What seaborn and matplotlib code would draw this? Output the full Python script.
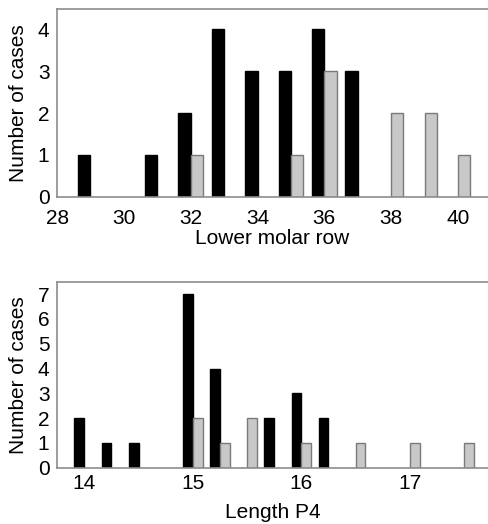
import pandas as pd
import matplotlib
matplotlib.use("Agg")
import matplotlib.pyplot as plt
import seaborn as sns

# Lower molar row counts (black = group A, grey = group B)
molar_a_x = [29, 31, 32, 33, 34, 35, 36, 37]
molar_a_n = [1, 1, 2, 4, 3, 3, 4, 3]
molar_b_x = [32, 35, 36, 38, 39, 40]
molar_b_n = [1, 1, 3, 2, 2, 1]

# Length P4 counts
p4_a_x = [14.0, 14.25, 14.5, 15.0, 15.25, 15.75, 16.0, 16.25]
p4_a_n = [2, 1, 1, 7, 4, 2, 3, 2]
p4_b_x = [15.0, 15.25, 15.5, 16.0, 16.5, 17.0, 17.5]
p4_b_n = [2, 1, 2, 1, 1, 1, 1]

sns.set_style("white")
plt.rcParams["font.family"] = ["Liberation Sans", "DejaVu Sans"]
plt.rcParams["font.size"] = 15
plt.rcParams["text.color"] = "black"
plt.rcParams["axes.labelcolor"] = "black"

BLACK = "#000000"
GREY = "#c8c8c8"
GREY_EDGE = "#7a7a7a"
SPINE = "#8c8c8c"


def make_df(ax_, an, bx, bn):
    return pd.DataFrame({
        "x": list(ax_) + list(bx),
        "n": list(an) + list(bn),
        "grp": ["a"] * len(ax_) + ["b"] * len(bx),
    })


def draw(ax, df, width):
    sns.barplot(data=df, x="x", y="n", hue="grp", hue_order=["a", "b"],
                palette=[BLACK, GREY], native_scale=True, dodge=True,
                width=width, gap=0, legend=False, ax=ax, linewidth=1)
    for cont, ec in zip(ax.containers, [BLACK, GREY_EDGE]):
        for p in cont:
            p.set_edgecolor(ec)
    for side in ["left", "bottom", "top"]:
        ax.spines[side].set_color(SPINE)
        ax.spines[side].set_linewidth(1.2)
    ax.spines["right"].set_visible(False)
    ax.tick_params(axis="both", direction="out", length=3.5, width=1,
                   color=SPINE, labelcolor="black", labelsize=15)
    ax.set_ylabel("Number of cases", fontsize=15)


fig = plt.figure(figsize=(4.88, 5.24), dpi=100)

ax1 = fig.add_axes([0.117, 0.6246, 0.883, 0.3576])
draw(ax1, make_df(molar_a_x, molar_a_n, molar_b_x, molar_b_n), 0.74)
ax1.set_xlim(28, 40.9)
ax1.set_ylim(0, 4.48)
ax1.set_xticks([28, 30, 32, 34, 36, 38, 40])
ax1.set_yticks([0, 1, 2, 3, 4])
ax1.tick_params(axis="x", pad=5)
ax1.tick_params(axis="y", pad=2)
ax1.set_xlabel("Lower molar row", fontsize=15, labelpad=1)
ax1.yaxis.set_label_coords(-0.068, 0.5)

ax2 = fig.add_axes([0.117, 0.1074, 0.883, 0.3539])
draw(ax2, make_df(p4_a_x, p4_a_n, p4_b_x, p4_b_n), 0.72)
ax2.set_xlim(13.75, 17.72)
ax2.set_ylim(0, 7.48)
ax2.set_xticks([14, 15, 16, 17])
ax2.set_yticks(range(8))
ax2.tick_params(axis="x", pad=1)
ax2.tick_params(axis="y", pad=2)
ax2.set_xlabel("Length P4", fontsize=15, labelpad=7)
ax2.yaxis.set_label_coords(-0.068, 0.5)

fig.savefig("out.png", dpi=100)
